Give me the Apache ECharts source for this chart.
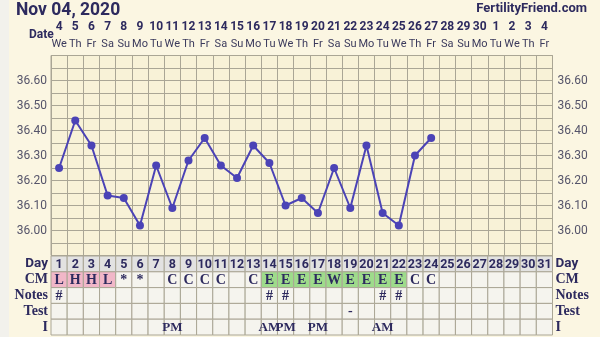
<!DOCTYPE html>
<html>
<head>
<meta charset="utf-8">
<script src="https://cdn.jsdelivr.net/npm/echarts@6/dist/echarts.min.js"></script>
<style>
html,body{margin:0;padding:0;}
body{background:linear-gradient(to right,#f2f1ec 0,#f2f1ec 9px,#fbf6e2 9px);}
#c{width:600px;height:337px;}
</style>
</head>
<body>
<div id="c"></div>
<script>
const chartDate = 'Nov 04, 2020';
const siteName = 'FertilityFriend.com';
const dates = [4,5,6,7,8,9,10,11,12,13,14,15,16,17,18,19,20,21,22,23,24,25,26,27,28,29,30,1,2,3,4];
const weekdays = ['We','Th','Fr','Sa','Su','Mo','Tu','We','Th','Fr','Sa','Su','Mo','Tu','We','Th','Fr','Sa','Su','Mo','Tu','We','Th','Fr','Sa','Su','Mo','Tu','We','Th','Fr'];
const temps = [36.25,36.44,36.34,36.14,36.13,36.02,36.26,36.09,36.28,36.37,36.26,36.21,36.34,36.27,36.10,36.13,36.07,36.25,36.09,36.34,36.07,36.02,36.30,36.37];
const rowNames = ['Day','CM','Notes','Test','I'];
const cycleDays = [1,2,3,4,5,6,7,8,9,10,11,12,13,14,15,16,17,18,19,20,21,22,23,24,25,26,27,28,29,30,31];
const cmCodes = ['L','H','H','L','*','*','','C','C','C','C','','C','E','E','E','E','W','E','E','E','E','C','C','','','','','','',''];
const cmColorKind = ['p','p','p','p','','','','','','','','','','g','g','g','g','g','g','g','g','g','','','','','','','','',''];
const notes = ['#','','','','','','','','','','','','','#','#','','','','','','#','#','','','','','','','','',''];
const tests = ['','','','','','','','','','','','','','','','','','','-','','','','','','','','','','','',''];
const intercourse = ['','','','','','','','PM','','','','','','AM','PM','','PM','','','','AM','','','','','','','','','',''];

const navy = '#2d2a5e';
const gridCol = '#aaa695';
const lineCol = '#4b43b6';
const cellBg = '#f5f4ee';
const dayBg = '#e2e2e1';
const pinkBg = '#f1b7c8';
const greenBg = '#9edb8b';

const idx = cycleDays.map((d,i)=>String(i));
const rowTexts = [cycleDays.map(String), cmCodes, notes, tests, intercourse];

const cells = [];
for (let r = 0; r < rowNames.length; r++) {
  for (let i = 0; i < cycleDays.length; i++) {
    cells.push([i, r]);
  }
}
function cellColor(i, r) {
  if (r === 0) return dayBg;
  if (r === 1) {
    if (cmColorKind[i] === 'p') return pinkBg;
    if (cmColorKind[i] === 'g') return greenBg;
  }
  return cellBg;
}

const tempLabel = v => {
  const c = Math.round(v * 100);
  return (c % 10 === 0 && c >= 3600 && c <= 3660) ? (c / 100).toFixed(2) : '';
};
const rowLabelRich = {
  s: {fontFamily: 'Roboto', fontWeight: 'bold', fontSize: 13.5, color: navy},
  f: {fontFamily: 'Liberation Serif', fontWeight: 'bold', fontSize: 14, color: navy}
};
const rowLabelFmt = v => v === 'Day' ? '{s|' + v + '}' : '{f|' + v + '}';

const chart = echarts.init(document.getElementById('c'), null, {renderer: 'canvas'});
chart.setOption({
  animation: false,
  backgroundColor: 'transparent',
  title: [
    {text: chartDate, left: 11, top: -3, textStyle: {fontFamily: 'Roboto', fontWeight: 'bold', fontSize: 17.5, color: navy}},
    {text: siteName, right: 8, top: -3, textStyle: {fontFamily: 'Roboto', fontWeight: 'bold', fontSize: 13, color: navy}},
    {text: 'Date', left: 24, top: 24, textStyle: {fontFamily: 'Roboto', fontWeight: 'bold', fontSize: 12, color: navy}}
  ],
  grid: [
    {left: 51, right: 47.5, top: 55.5, height: 200, show: true, backgroundColor: '#f8f2d7', borderColor: gridCol, borderWidth: 1},
    {left: 51, right: 47.5, top: 256, height: 79, show: false}
  ],
  xAxis: [
    {type: 'category', gridIndex: 0, data: idx, position: 'top', boundaryGap: true,
     axisLine: {show: false}, axisTick: {show: false},
     splitLine: {show: true, interval: 0, lineStyle: {color: gridCol, width: 1}},
     axisLabel: {interval: 0, margin: 3,
       formatter: (v, i) => '{d|' + dates[i] + '}\n{w|' + weekdays[i] + '}',
       rich: {
         d: {fontFamily: 'Roboto', fontWeight: 'bold', fontSize: 12, color: navy, lineHeight: 17, align: 'center'},
         w: {fontFamily: 'Roboto', fontSize: 11, color: '#3b3a5c', lineHeight: 17, align: 'center'}
       }}},
    {type: 'category', gridIndex: 1, data: idx, boundaryGap: true,
     axisLine: {show: false}, axisTick: {show: false}, axisLabel: {show: false},
     splitLine: {show: false}}
  ],
  yAxis: [
    {type: 'value', gridIndex: 0, min: 35.9, max: 36.7, interval: 0.05, position: 'left',
     axisLine: {show: false}, axisTick: {show: false},
     splitLine: {show: true, lineStyle: {color: gridCol, width: 1}},
     axisLabel: {margin: 4, formatter: tempLabel, fontFamily: 'Roboto', fontSize: 12, color: '#55546a'}},
    {type: 'value', gridIndex: 0, min: 35.9, max: 36.7, interval: 0.05, position: 'right',
     axisLine: {show: false}, axisTick: {show: false}, splitLine: {show: false},
     axisLabel: {margin: 5, formatter: tempLabel, fontFamily: 'Roboto', fontSize: 12, color: '#55546a'}},
    {type: 'category', gridIndex: 1, data: rowNames, inverse: true, position: 'left',
     axisLine: {show: false}, axisTick: {show: false}, splitLine: {show: false},
     axisLabel: {margin: 3, formatter: rowLabelFmt, rich: rowLabelRich}},
    {type: 'category', gridIndex: 1, data: rowNames, inverse: true, position: 'right',
     axisLine: {show: false}, axisTick: {show: false}, splitLine: {show: false},
     axisLabel: {margin: 3, formatter: rowLabelFmt, rich: rowLabelRich}}
  ],
  series: [
    {type: 'custom', xAxisIndex: 1, yAxisIndex: 2, data: cells, z: 2,
     renderItem: (params, api) => {
       const i = api.value(0), r = api.value(1);
       const c = api.coord([i, r]);
       const s = api.size([1, 1]);
       const t = rowTexts[r][i];
       const isDay = r === 0;
       const small = (t === 'AM' || t === 'PM');
       return {type: 'group', children: [
         {type: 'rect', shape: {x: c[0] - s[0] / 2, y: c[1] - s[1] / 2, width: s[0], height: s[1]},
          style: {fill: cellColor(i, r), stroke: gridCol, lineWidth: 1}},
         {type: 'text', z2: 5, style: {text: t, x: c[0], y: c[1] + 0.5, align: 'center', verticalAlign: 'middle',
           font: isDay ? 'bold 12.5px Roboto' : (small ? 'bold 13px "Liberation Serif"' : 'bold 14px "Liberation Serif"'),
           fill: navy}}
       ]};
     }},
    {type: 'line', xAxisIndex: 0, yAxisIndex: 0, data: temps, z: 5,
     symbol: 'circle', symbolSize: 8, showSymbol: true,
     lineStyle: {color: lineCol, width: 2}, itemStyle: {color: lineCol}}
  ]
});
</script>
</body>
</html>
